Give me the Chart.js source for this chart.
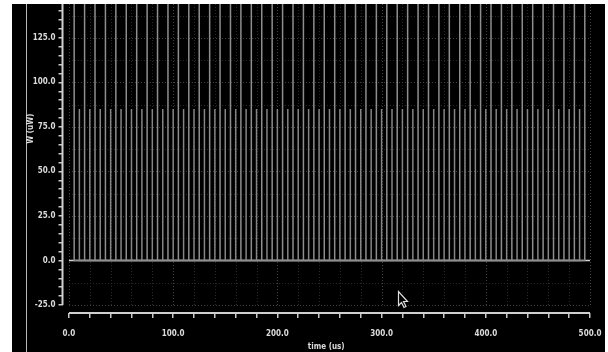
<!DOCTYPE html>
<html>
<head>
<meta charset="utf-8">
<script src="https://cdn.jsdelivr.net/npm/chart.js@4/dist/chart.umd.min.js"></script>
<style>
  body { margin: 0; background: #fff; width: 608px; height: 352px; overflow: hidden; }
  #panel { position: absolute; left: 12px; top: 4px; width: 593px; height: 348px; background: #000; }
  #rule { position: absolute; left: 14px; top: 0; width: 1px; height: 348px; background: #b8b8b8; }
  #wave { position: absolute; left: 0; top: 0; }
</style>
</head>
<body>
<div id="panel">
  <div id="rule"></div>
  <canvas id="wave" width="593" height="348"></canvas>
</div>
<script>
// pulse instants (us) for the two kinds of power spikes
const tallTimes = [5, 15, 25, 35, 45, 55, 65, 75, 85, 95,
  105, 115, 125, 135, 145, 155, 165, 175, 185, 195,
  205, 215, 225, 235, 245, 255, 265, 275, 285, 295,
  305, 315, 325, 335, 345, 355, 365, 375, 385, 395,
  405, 415, 425, 435, 445, 455, 465, 475, 485, 495];
const shortTimes = [10, 20, 30, 40, 50, 60, 70, 80, 90,
  100, 110, 120, 130, 140, 150, 160, 170, 180, 190,
  200, 210, 220, 230, 240, 250, 260, 270, 280, 290,
  300, 310, 320, 330, 340, 350, 360, 370, 380, 390,
  400, 410, 420, 430, 440, 450, 460, 470, 480, 490];
const tallPeak = 150;   // runs off the top of the window
const shortPeak = 85;
const baseline = [[0, 0], [500, 0]];

const xLabels = ["0.0", "100.0", "200.0", "300.0", "400.0", "500.0"];
const yLabels = ["-25.0", "0.0", "25.0", "50.0", "75.0", "100.0", "125.0"];
const xMinorStep = 20;
const yMinorStep = 5;

const xMajor = xLabels.map(Number);
const yMajor = yLabels.map(Number);
const xTicks = [];
for (let v = xMajor[0]; v <= xMajor[xMajor.length - 1]; v += xMinorStep) xTicks.push(v);
const yTicks = [];
for (let v = yMajor[0]; v <= 140; v += yMinorStep) yTicks.push(v);

function spikes(times, peak) {
  const pts = [];
  times.forEach(t => {
    pts.push({ x: t, y: 0 }, { x: t, y: peak }, { x: t, y: 0 });
  });
  return pts;
}

const fontFamily = "'Liberation Sans Narrow', 'DejaVu Sans Condensed', sans-serif";
const font = { family: fontFamily, size: 8, weight: "bold" };

const scopeFrame = {
  id: "scopeFrame",
  beforeDatasetsDraw(chart) {
    const { ctx, scales: { x, y } } = chart;
    const left = x.getPixelForValue(0), right = x.getPixelForValue(500);
    const top = chart.chartArea.top, bottom = y.getPixelForValue(-25);
    ctx.save();
    ctx.lineWidth = 1;
    ctx.setLineDash([1, 2]);
    xTicks.forEach(v => {
      const px = Math.round(x.getPixelForValue(v)) + 0.5;
      ctx.strokeStyle = xMajor.includes(v) ? "#444" : "#2a2a2a";
      ctx.beginPath(); ctx.moveTo(px, top); ctx.lineTo(px, bottom); ctx.stroke();
    });
    for (let v = -25; v <= 137.5; v += 12.5) {
      const py = Math.round(y.getPixelForValue(v)) + 0.5;
      ctx.strokeStyle = yMajor.includes(v) ? "#444" : "#2a2a2a";
      ctx.beginPath(); ctx.moveTo(left, py); ctx.lineTo(right, py); ctx.stroke();
    }
    ctx.restore();
  },
  afterDraw(chart) {
    const { ctx, scales: { x, y } } = chart;
    const area = chart.chartArea;
    ctx.save();
    ctx.strokeStyle = "#d0d0d0";
    ctx.lineWidth = 2;
    // axis lines
    ctx.beginPath();
    ctx.moveTo(x.getPixelForValue(0), area.bottom);
    ctx.lineTo(x.getPixelForValue(500), area.bottom);
    ctx.moveTo(area.left, area.top);
    ctx.lineTo(area.left, y.getPixelForValue(-25));
    ctx.stroke();

    // y axis title
    ctx.fillStyle = "#dcdcdc";
    ctx.font = "bold 8px " + fontFamily;
    ctx.textAlign = "center";
    ctx.textBaseline = "middle";
    ctx.translate(19, y.getPixelForValue(74));
    ctx.rotate(-Math.PI / 2);
    ctx.fillText("W (uW)", 0, 0);
    ctx.restore();

    // mouse pointer
    ctx.save();
    ctx.translate(Math.round(x.getPixelForValue(316)) + 0.5, Math.round(y.getPixelForValue(-17)) + 0.5);
    ctx.beginPath();
    ctx.moveTo(0, 0); ctx.lineTo(0, 14); ctx.lineTo(3, 11); ctx.lineTo(5.5, 16);
    ctx.lineTo(7.5, 15); ctx.lineTo(5, 10); ctx.lineTo(9, 10); ctx.closePath();
    ctx.fillStyle = "#000"; ctx.fill();
    ctx.strokeStyle = "#e0e0e0"; ctx.lineWidth = 1.2; ctx.stroke();
    ctx.restore();
  }
};

new Chart(document.getElementById("wave"), {
  type: "line",
  data: {
    datasets: [
      {
        label: "tall",
        data: spikes(tallTimes, tallPeak),
        borderColor: "#8e8e8e",
        borderWidth: 1.5,
      },
      {
        label: "short",
        data: spikes(shortTimes, shortPeak),
        borderColor: "#858585",
        borderWidth: 1.5,
      },
      {
        label: "base",
        data: baseline.map(([t, v]) => ({ x: t, y: v })),
        borderColor: "#d4d4d4",
        borderWidth: 1.5,
      },
    ],
  },
  options: {
    responsive: false,
    animation: false,
    events: [],
    elements: { point: { radius: 0 }, line: { tension: 0, borderJoinStyle: "miter" } },
    layout: { padding: { top: 0, right: 15, left: 0, bottom: 0 } },
    plugins: { legend: { display: false }, tooltip: { enabled: false } },
    scales: {
      x: {
        type: "linear",
        min: -6.2,
        max: 500,
        afterBuildTicks: s => { s.ticks = xTicks.map(v => ({ value: v })); },
        afterFit: s => { s.height = 39; s.paddingLeft = 0; s.paddingRight = 0; },
        ticks: {
          autoSkip: false,
          maxRotation: 0,
          padding: 11,
          color: "#dcdcdc",
          font: font,
          callback: v => (xMajor.includes(v) ? xLabels[xMajor.indexOf(v)] : ""),
        },
        grid: { drawOnChartArea: false, drawTicks: true, tickLength: 5, color: "#c8c8c8", lineWidth: 1.5 },
        border: { display: false },
        title: { display: true, text: "time (us)", color: "#dcdcdc", font: font, padding: { top: 2, bottom: 0 } },
      },
      y: {
        type: "linear",
        min: -29.5,
        max: 144,
        afterBuildTicks: s => { s.ticks = yTicks.map(v => ({ value: v })); },
        afterFit: s => { s.width = 50.5; s.paddingTop = 0; s.paddingBottom = 0; },
        ticks: {
          autoSkip: false,
          padding: 3,
          color: "#dcdcdc",
          font: font,
          callback: v => (yMajor.includes(v) ? yLabels[yMajor.indexOf(v)] : ""),
        },
        grid: { drawOnChartArea: false, drawTicks: true, tickLength: 4, color: "#c8c8c8", lineWidth: 1.5 },
        border: { display: false },
      },
    },
  },
  plugins: [scopeFrame],
});
</script>
</body>
</html>
